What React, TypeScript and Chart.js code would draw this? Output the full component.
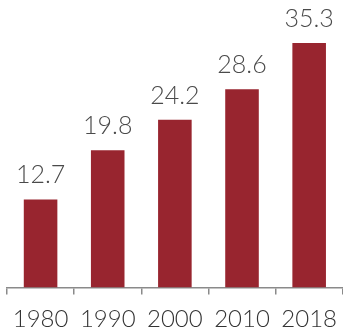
import React, { useEffect, useRef } from "react";
import { Chart, registerables } from "chart.js";

Chart.register(...registerables);

const categories = ["1980", "1990", "2000", "2010", "2018"];
const values = [12.7, 19.8, 24.2, 28.6, 35.3];
const valueLabels = ["12.7", "19.8", "24.2", "28.6", "35.3"];

const FONT = "Lato, 'Open Sans', sans-serif";

const valueLabelPlugin = {
  id: "valueLabels",
  afterDatasetsDraw(chart: any) {
    const ctx = chart.ctx;
    const meta = chart.getDatasetMeta(0);
    ctx.save();
    ctx.font = `300 25px ${FONT}`;
    ctx.fillStyle = "#4a4a4a";
    ctx.textAlign = "center";
    ctx.textBaseline = "alphabetic";
    meta.data.forEach((bar: any, i: number) => {
      ctx.fillText(valueLabels[i], bar.x, bar.y - 16);
    });
    ctx.restore();
  },
};

export default function App() {
  const ref = useRef<HTMLCanvasElement>(null);
  useEffect(() => {
    document.body.style.margin = "0";
    const chart = new Chart(ref.current!, {
      type: "bar",
      data: {
        labels: categories,
        datasets: [
          {
            data: values,
            backgroundColor: "#98252f",
            categoryPercentage: 1,
            barPercentage: 0.5,
          },
        ],
      },
      options: {
        animation: false,
        responsive: false,
        maintainAspectRatio: false,
        layout: { padding: { left: 7, right: 0, top: 0, bottom: 0 } },
        plugins: { legend: { display: false }, tooltip: { enabled: false } },
        scales: {
          y: { display: false, min: 0, max: 41.5 },
          x: {
            grid: {
              offset: true,
              drawOnChartArea: false,
              tickLength: 7,
              color: "#8a8a8a",
              lineWidth: 1.5,
            },
            border: { color: "#8a8a8a", width: 1.5 },
            ticks: {
              color: "#333333",
              font: { family: FONT, size: 24, weight: "300", lineHeight: 1.4 },
              padding: 8,
              maxRotation: 0,
              autoSkip: false,
            },
          },
        },
      },
      plugins: [valueLabelPlugin],
    });
    return () => chart.destroy();
  }, []);
  return (
    <div style={{ width: 343, height: 334, overflow: "hidden", position: "relative" }}>
      <canvas ref={ref} width={345} height={344} style={{ display: "block" }} />
    </div>
  );
}
